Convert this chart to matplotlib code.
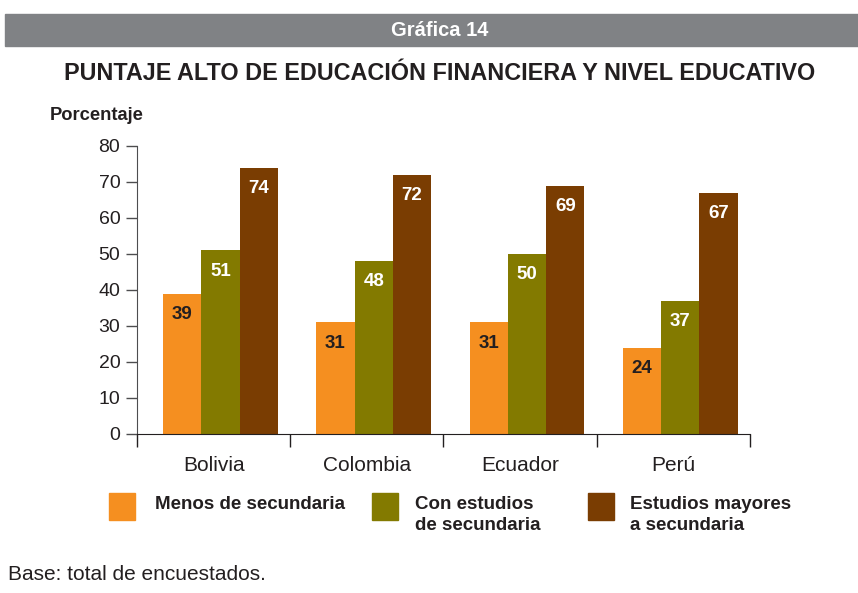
import numpy as np
import matplotlib.pyplot as plt
from matplotlib.patches import Rectangle

plt.rcParams['font.family'] = ['Liberation Sans', 'DejaVu Sans']

paises = ['Bolivia', 'Colombia', 'Ecuador', 'Perú']
menos_secundaria = [39, 31, 31, 24]
con_secundaria = [51, 48, 50, 37]
mayores_secundaria = [74, 72, 69, 67]

series = ['Menos de secundaria', 'Con estudios\nde secundaria', 'Estudios mayores\na secundaria']
colores = ['#F58F20', '#837A00', '#7A3D02']
color_texto = ['#231F20', 'white', 'white']

fig = plt.figure(figsize=(8.58, 5.93), dpi=100)

# franja gris de encabezado
fig.patches.append(Rectangle((5 / 858, 1 - 46 / 593), 853 / 858, 32 / 593,
                             transform=fig.transFigure, color='#808285', zorder=0))
fig.text(440 / 858, 1 - 30 / 593, 'Gráfica 14', ha='center', va='center',
         color='white', fontsize=14.5, fontweight='bold')
fig.text(440 / 858, 1 - 73 / 593,
         'PUNTAJE ALTO DE EDUCACIÓN FINANCIERA Y NIVEL EDUCATIVO',
         ha='center', va='center', color='#231F20', fontsize=16.8, fontweight='bold')
fig.text(50 / 858, 1 - 116 / 593, 'Porcentaje', ha='left', va='center',
         color='#231F20', fontsize=13.2, fontweight='bold')

ax = fig.add_axes([137 / 858, 1 - 434 / 593, 613 / 858, 288 / 593])

x = np.arange(len(paises))
ancho = 0.25
desplaz = 0.045
datos = [menos_secundaria, con_secundaria, mayores_secundaria]
for i, vals in enumerate(datos):
    pos = x + desplaz + (i - 1) * ancho
    ax.bar(pos, vals, width=ancho, color=colores[i], linewidth=0)
    for p, v in zip(pos, vals):
        ax.text(p, v - 3.4, str(v), ha='center', va='top', color=color_texto[i],
                fontsize=13.5, fontweight='bold')

ax.set_xlim(-0.5, len(paises) - 0.5)
ax.set_ylim(0, 80)
ax.set_yticks(np.arange(0, 81, 10))
ax.set_xticks(np.arange(-0.5, len(paises), 1.0))
ax.set_xticklabels([])
ax.set_xticks(x, minor=True)
ax.set_xticklabels(paises, minor=True)
ax.tick_params(axis='x', which='minor', length=0, pad=16, labelsize=15, labelcolor='#231F20')
ax.tick_params(axis='x', which='major', direction='out', length=9, width=1, color='#231F20')
ax.tick_params(axis='y', direction='out', length=8, width=1, color='#4D4D4F',
               labelsize=14, labelcolor='#231F20', pad=4)
for lado in ['top', 'right']:
    ax.spines[lado].set_visible(False)
ax.spines['left'].set_color('#4D4D4F')
ax.spines['bottom'].set_color('#231F20')

# leyenda manual
leyenda_x = [109, 372, 588]
texto_x = [155, 415, 630]
for cx, tx, c, s in zip(leyenda_x, texto_x, colores, series):
    fig.patches.append(Rectangle((cx / 858, 1 - 520 / 593), 26 / 858, 27 / 593,
                                 transform=fig.transFigure, color=c))
    fig.text(tx / 858, 1 - 496 / 593, s, ha='left', va='top', color='#231F20',
             fontsize=13.5, fontweight='bold', linespacing=1.3)

fig.text(8 / 858, 1 - 574 / 593, 'Base: total de encuestados.', ha='left', va='center',
         color='#231F20', fontsize=15)

fig.savefig('out.png', dpi=100)
